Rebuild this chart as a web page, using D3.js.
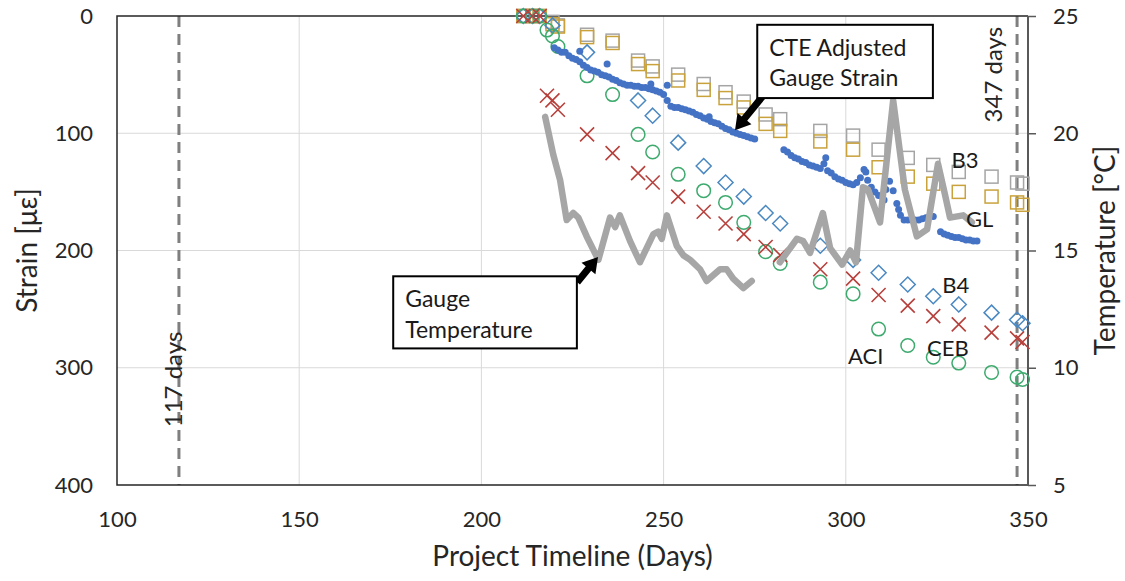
<!DOCTYPE html>
<html>
<head>
<meta charset="utf-8">
<script src="https://cdn.jsdelivr.net/npm/d3@7"></script>
<style>
  body { margin: 0; background: #fff; }
  svg { display: block; font-family: Lato, "Open Sans", sans-serif; }
  .tick text { fill: #262626; }
</style>
</head>
<body>
<svg id="chart" width="1125" height="581"></svg>
<script>
// test days shared by the prediction models
var testDays = [211.5, 214, 216, 218, 219.5, 221, 229, 236, 243, 247, 254, 261, 267, 272, 278, 282, 293, 302, 309, 317, 324, 331, 340, 347, 348.5];
var b3 = [0, 0, 0, null, 5, 8, 16, 21, 38, 43, 50, 58, 65, 73, 84, 88, 98, 102, 114, 121, 127, 133, 137, 142, 143];
var gl = [0, 0, 0, null, 7, 9, 18, 23, 41, 47, 55, 63, 70, 78, 92, 98, 107, 114, 129, 137, 143, 150, 154, 159, 161];
var b4 = [0, 0, 0, null, 8, null, 31, null, 72, 85, 108, 128, 142, 154, 168, 177, 196, 208, 219, 229, 239, 246, 253, 259, 262];
var aci = [0, 0, 0, 12, 17, 26, 51, 67, 101, 116, 135, 149, 159, 176, 201, 211, 227, 237, 267, 281, 291, 296, 304, 308, 310];
var ceb = [0, 0, 0, 68, 72, 80, 101, 117, 134, 142, 154, 167, 177, 186, 197, 204, 216, 224, 238, 247, 256, 263, 270, 275, 278];

// CTE adjusted gauge strain (vibrating wire readings)
var gaugeDays = [220, 221, 222, 223, 224, 225, 226, 227, 228, 229, 230, 231, 232, 233, 234, 235, 236, 237, 238, 239, 240, 241, 242, 243, 244, 245, 246, 247, 248, 249, 250, 251, 252, 253, 254, 255, 256, 257, 258, 259, 260, 261, 262, 263, 264, 265, 266, 267, 268, 269, 270, 271, 272, 273, 274, 275,
  283, 284, 285, 286, 287, 288, 289, 290, 291, 292, 293, 294, 295, 296, 297, 298, 299, 300, 301, 302, 303, 304, 305, 306, 307, 308, 309, 310, 311, 312, 313, 314, 315, 316, 317, 318, 319, 320, 321, 322, 323, 324,
  326, 327, 328, 329, 330, 331, 332, 333, 334, 335, 336,
  227, 234.5, 251, 246.5, 262.5, 294.5, 305.5, 310.5, 314.5];
var gaugeStrain = [27, 29, 31, 31, 34, 36, 37, 39, 42, 44, 46, 47, 48, 50, 51, 52, 54, 55, 57, 58, 59, 59, 60, 60, 61, 61, 62, 63, 64, 65, 67, 72, 77, 78, 78, 79, 80, 81, 82, 84, 85, 87, 88, 90, 91, 92, 94, 96, 97, 99, 100, 101, 102, 103, 104, 105,
  114, 116, 119, 121, 122, 124, 125, 127, 128, 129, 130, 126, 132, 134, 137, 139, 140, 142, 143, 144, 142, 138, 131, 140, 146, 150, 153, 154, 148, 141, 149, 160, 170, 174, 174, 174, 174, 174, 173, 172, 171, 171,
  184, 186, 187, 188, 189, 189, 190, 191, 191, 192, 192,
  30, 41, 59, 58, 86, 121, 133, 157, 165];

// gauge temperature, right axis (null = gap in record)
var tempDays = [217.5, 219.7, 221.6, 223.4, 225.2, 226.6, 228.9, 232.1, 235.3, 236.7, 238, 240.8, 243.5, 247.2, 248.5, 249.5, 250.9, 253.6, 255.4, 257.3, 260, 261.8, 265.5, 267.3, 269.1, 271.9, 274.2,
  278, 281.9, 286.6, 288.3, 290.2, 293.7, 295.7, 299, 301.2, 302.8, 304.7, 306.1, 309.4, 313, 316.2, 319.5, 322.3, 325.3, 327.2, 328.6, 332.2, 334.6];
var tempVals = [20.7, 19.1, 18.0, 16.3, 16.6, 16.4, 15.6, 14.6, 16.4, 16.0, 16.5, 15.4, 14.5, 15.7, 15.8, 15.5, 16.5, 15.2, 14.8, 14.6, 14.2, 13.7, 14.2, 14.2, 13.8, 13.4, 13.7,
  null, 14.5, 15.5, 15.4, 14.9, 16.6, 15.1, 14.4, 15.0, 14.5, 17.7, 17.6, 16.2, 21.4, 17.6, 15.6, 15.9, 18.7, 17.4, 16.4, 16.5, 16.2];

var xTicks = [100, 150, 200, 250, 300, 350];
var yTicks = [0, 100, 200, 300, 400];
var tTicks = [5, 10, 15, 20, 25];

var svg = d3.select('#chart');
var x = d3.scaleLinear().domain([100, 350]).range([117, 1028]);
var y = d3.scaleLinear().domain([0, 400]).range([16, 485]);
var yt = d3.scaleLinear().domain([5, 25]).range([485, 16]);

svg.append('rect').attr('width', 1125).attr('height', 581).attr('fill', '#fff');

// gridlines
var grid = svg.append('g').attr('stroke', '#d9d9d9').attr('stroke-width', 1);
grid.selectAll('.gx').data(xTicks.slice(1, -1)).enter().append('line')
  .attr('x1', function(d) { return x(d); }).attr('x2', function(d) { return x(d); })
  .attr('y1', y(0)).attr('y2', y(400));
grid.selectAll('.gy').data(yTicks.slice(1, -1)).enter().append('line')
  .attr('x1', x(100)).attr('x2', x(350))
  .attr('y1', function(d) { return y(d); }).attr('y2', function(d) { return y(d); });

// age markers
[117, 347].forEach(function(d) {
  svg.append('line').attr('x1', x(d)).attr('x2', x(d)).attr('y1', y(0)).attr('y2', y(400))
    .attr('stroke', '#7f7f7f').attr('stroke-width', 3).attr('stroke-dasharray', '11,7');
});
svg.append('text').attr('transform', 'translate(' + (x(117) + 3) + ',' + y(310) + ') rotate(-90)')
  .attr('text-anchor', 'middle').attr('font-size', 24).attr('fill', '#262626').text('117 days');
svg.append('text').attr('transform', 'translate(' + (x(347) - 15) + ',' + y(50) + ') rotate(-90)')
  .attr('text-anchor', 'middle').attr('font-size', 24).attr('fill', '#262626').text('347 days');

// axes
var fs = 22;
var gL = svg.append('g').attr('transform', 'translate(' + x(100) + ',0)')
  .call(d3.axisLeft(y).tickValues(yTicks).tickSize(0).tickPadding(24));
var gB = svg.append('g').attr('transform', 'translate(0,' + y(400) + ')')
  .call(d3.axisBottom(x).tickValues(xTicks).tickSize(0).tickPadding(26));
var gR = svg.append('g').attr('transform', 'translate(' + x(350) + ',0)')
  .call(d3.axisRight(yt).tickValues(tTicks).tickSize(8).tickPadding(17));
[gL, gB, gR].forEach(function(g) {
  g.selectAll('.tick text').attr('font-size', fs).attr('font-family', 'Lato');
  g.select('.domain').remove();
});
gR.selectAll('.tick line').attr('stroke', '#595959').attr('stroke-width', 1.5);

// plot frame
svg.append('path').attr('fill', 'none').attr('stroke', '#262626').attr('stroke-width', 1.5)
  .attr('d', 'M' + x(350) + ',' + y(0) + 'H' + x(100) + 'V' + y(400) + 'H' + x(350));
svg.append('line').attr('x1', x(350)).attr('x2', x(350)).attr('y1', y(0)).attr('y2', y(400))
  .attr('stroke', '#595959').attr('stroke-width', 2);

// axis titles
svg.append('text').attr('x', (x(100) + x(350)) / 2).attr('y', 566).attr('text-anchor', 'middle')
  .attr('font-size', 28).attr('fill', '#262626').text('Project Timeline (Days)');
svg.append('text').attr('transform', 'translate(37,' + (y(0) + y(400)) / 2 + ') rotate(-90)')
  .attr('text-anchor', 'middle').attr('font-size', 28).attr('fill', '#262626').text('Strain [με]');
svg.append('text').attr('transform', 'translate(1115,' + (y(0) + y(400)) / 2 + ') rotate(-90)')
  .attr('text-anchor', 'middle').attr('font-size', 28).attr('fill', '#262626').text('Temperature [°C]');

// model markers
function pts(vals) {
  return testDays.map(function(d, i) { return { d: d, v: vals[i] }; })
    .filter(function(p) { return p.v !== null; });
}
var plot = svg.append('g');
function squares(vals, color) {
  plot.selectAll(null).data(pts(vals)).enter().append('rect')
    .attr('x', function(p) { return x(p.d) - 6.5; }).attr('y', function(p) { return y(p.v) - 6.5; })
    .attr('width', 13).attr('height', 13)
    .attr('fill', 'none').attr('stroke', color).attr('stroke-width', 1.5);
}
squares(b3, '#a5a5a5');
squares(gl, '#c9a23c');
plot.selectAll(null).data(pts(b4)).enter().append('path')
  .attr('transform', function(p) { return 'translate(' + x(p.d) + ',' + y(p.v) + ')'; })
  .attr('d', 'M0,-7.5L7.5,0L0,7.5L-7.5,0Z')
  .attr('fill', 'none').attr('stroke', '#4a88c2').attr('stroke-width', 1.5);
plot.selectAll(null).data(pts(aci)).enter().append('circle')
  .attr('cx', function(p) { return x(p.d); }).attr('cy', function(p) { return y(p.v); })
  .attr('r', 6.8).attr('fill', 'none').attr('stroke', '#3daa6e').attr('stroke-width', 1.5);
plot.selectAll(null).data(pts(ceb)).enter().append('path')
  .attr('transform', function(p) { return 'translate(' + x(p.d) + ',' + y(p.v) + ')'; })
  .attr('d', 'M-7,-7L7,7M-7,7L7,-7')
  .attr('fill', 'none').attr('stroke', '#b8403c').attr('stroke-width', 1.6);

// gauge strain dots
plot.selectAll(null).data(gaugeDays).enter().append('circle')
  .attr('cx', function(d) { return x(d); })
  .attr('cy', function(d, i) { return y(gaugeStrain[i]); })
  .attr('r', 3.5).attr('fill', '#4472c4');

// gauge temperature
var line = d3.line()
  .defined(function(d, i) { return tempVals[i] !== null; })
  .x(function(d) { return x(d); })
  .y(function(d, i) { return yt(tempVals[i]); });
plot.append('path').datum(tempDays).attr('d', line)
  .attr('fill', 'none').attr('stroke', '#a6a6a6').attr('stroke-width', 6.5)
  .attr('stroke-linejoin', 'round').attr('stroke-linecap', 'round');

// series labels
var labels = [
  { t: 'B3', d: 329, v: 130 }, { t: 'GL', d: 333, v: 180 }, { t: 'B4', d: 326.5, v: 236 },
  { t: 'ACI', d: 300.6, v: 297 }, { t: 'CEB', d: 322.3, v: 290 }
];
svg.selectAll(null).data(labels).enter().append('text')
  .attr('x', function(l) { return x(l.d); }).attr('y', function(l) { return y(l.v); })
  .attr('font-size', 22).attr('fill', '#1a1a1a').text(function(l) { return l.t; });

// callouts
function arrow(x1, y1, x2, y2) {
  var dx = x2 - x1, dy = y2 - y1, len = Math.sqrt(dx * dx + dy * dy);
  var ux = dx / len, uy = dy / len, nx = -uy, ny = ux;
  var hl = 15, hw = 9, sw = 3.5;
  var bx = x2 - ux * hl, by = y2 - uy * hl;
  var p = [[x1 + nx * sw, y1 + ny * sw], [bx + nx * sw, by + ny * sw], [bx + nx * hw, by + ny * hw], [x2, y2],
    [bx - nx * hw, by - ny * hw], [bx - nx * sw, by - ny * sw], [x1 - nx * sw, y1 - ny * sw]];
  svg.append('path').attr('d', 'M' + p.join('L') + 'Z').attr('fill', '#000');
}
function callout(d0, v0, d1, v1, lines, lineGap) {
  svg.append('rect').attr('x', x(d0)).attr('y', y(v0))
    .attr('width', x(d1) - x(d0)).attr('height', y(v1) - y(v0))
    .attr('fill', '#fff').attr('stroke', '#000').attr('stroke-width', 2);
  lines.forEach(function(t, i) {
    svg.append('text').attr('x', x(d0) + 12).attr('y', y(v0) + 31 + i * lineGap)
      .attr('font-size', 23).attr('fill', '#1a1a1a').text(t);
  });
}
arrow(x(277.3), y(68), x(269.6), y(97.5));
callout(275.7, 7.5, 323.9, 70, ['CTE Adjusted', 'Gauge Strain'], 30);
arrow(x(226.3), y(227), x(232), y(205.5));
callout(175.8, 222, 226.2, 283.5, ['Gauge', 'Temperature'], 31);
</script>
</body>
</html>
